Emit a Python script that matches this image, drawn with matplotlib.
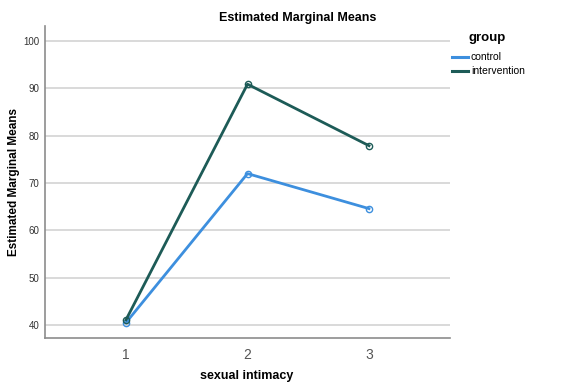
import matplotlib
matplotlib.use('Agg')
import matplotlib.pyplot as plt

plt.rcParams['font.family'] = ['Liberation Sans', 'DejaVu Sans']

# 数据
levels = [1, 2, 3]
control = [40.5, 72.0, 64.6]
intervention = [41.1, 90.9, 77.9]
group_names = ['control', 'intervention']
y_ticks = [40, 50, 60, 70, 80, 90, 100]

c_control = '#3d8fde'
c_interv = '#1d5b57'

W, H = 574, 391
fig = plt.figure(figsize=(W / 100, H / 100), dpi=100)
fig.patch.set_facecolor('white')
ax = fig.add_axes([45 / W, 1 - 338 / H, 405 / W, 312 / H])

for y in y_ticks:
    ax.axhline(y, color='#d3d3d3', lw=1.2, zorder=0)

ax.plot(levels, control, color=c_control, lw=2.0, marker='o', ms=4.5,
        mfc='none', mec=c_control, mew=1.0, label=group_names[0])
ax.plot(levels, intervention, color=c_interv, lw=2.0, marker='o', ms=4.5,
        mfc='none', mec=c_interv, mew=1.0, label=group_names[1])

ax.set_xlim(1 / 3, 3 + 2 / 3)
ax.set_ylim(37.25, 103.2)
ax.set_xticks(levels)
ax.set_xticklabels([str(v) for v in levels], fontsize=10, color='#555555')
ax.set_yticks(y_ticks)
ax.set_yticklabels([str(v) for v in y_ticks], fontsize=7, color='#333333')
ax.tick_params(axis='both', length=0)
ax.tick_params(axis='x', pad=7)
ax.tick_params(axis='y', pad=4)

for s in ['top', 'right']:
    ax.spines[s].set_visible(False)
for s in ['left', 'bottom']:
    ax.spines[s].set_color('#8c8c8c')
    ax.spines[s].set_linewidth(1.2)

fig.text(298 / W, 1 - 18 / H, 'Estimated Marginal Means', ha='center', va='center',
         fontsize=9, fontweight='bold')
fig.text(247 / W, 1 - 376 / H, 'sexual intimacy', ha='center', va='center',
         fontsize=9, fontweight='bold')
fig.text(14 / W, 1 - 182 / H, 'Estimated Marginal Means', ha='center', va='center',
         fontsize=8.5, fontweight='bold', rotation=90)

# 图例标题单独画
fig.text(469 / W, 1 - 38 / H, 'group', ha='left', va='center',
         fontsize=9.5, fontweight='bold')
labels = group_names
leg = fig.legend([plt.Line2D([], [], color=c_control, lw=2.2),
                  plt.Line2D([], [], color=c_interv, lw=2.2)],
                 labels, loc='upper left', bbox_to_anchor=(448 / W, 1 - 48 / H),
                 frameon=False, fontsize=7.5, handlelength=1.5,
                 handletextpad=0.3, labelspacing=0.4, borderaxespad=0)

fig.savefig('out.png', dpi=100)
plt.close()
